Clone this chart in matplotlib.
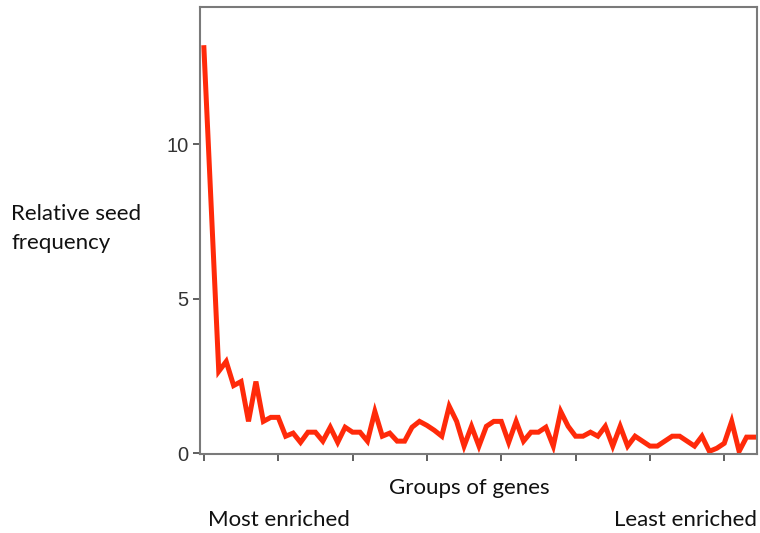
import numpy as np
import matplotlib.pyplot as plt

# relative seed frequency per gene group, ordered from most to least enriched
groups = np.arange(75)
seed_freq = [
    13.13, 7.9, 2.65, 2.97, 2.19, 2.32, 1.03, 2.32, 1.03, 1.16,
    1.16, 0.55, 0.65, 0.35, 0.68, 0.68, 0.39, 0.84, 0.35, 0.84,
    0.68, 0.68, 0.39, 1.35, 0.55, 0.65, 0.39, 0.39, 0.84, 1.03,
    0.90, 0.74, 0.55, 1.52, 1.03, 0.23, 0.87, 0.23, 0.87, 1.03,
    1.03, 0.35, 1.03, 0.39, 0.68, 0.68, 0.84, 0.23, 1.35, 0.87,
    0.55, 0.55, 0.68, 0.55, 0.87, 0.23, 0.87, 0.23, 0.55, 0.39,
    0.23, 0.23, 0.39, 0.55, 0.55, 0.39, 0.23, 0.55, 0.06, 0.16,
    0.32, 1.03, 0.06, 0.52, 0.52,
]
y_ticks = [0, 5, 10]
x_ticks = np.arange(0, 71, 10)

fig = plt.figure(figsize=(7.6, 5.33), dpi=100)
ax = fig.add_axes([0.263, 0.148, 0.733, 0.839])

ax.plot(groups, seed_freq, color='#ff2a0a', lw=3.6, solid_joinstyle='miter')

ax.set_xlim(-0.54, 74.4)
ax.set_ylim(-0.03, 14.45)
ax.set_yticks(y_ticks)
ax.set_xticks(x_ticks)
ax.set_xticklabels([])
for s in ax.spines.values():
    s.set_color('#7a7a7a')
    s.set_linewidth(1.5)
ax.tick_params(axis='both', direction='out', length=5, width=1.2, color='#444444')
ax.tick_params(axis='y', labelsize=14.5, labelcolor='#333333', pad=3)
for lab in ax.get_yticklabels():
    lab.set_family('Liberation Sans')

txt = dict(family='Lato', fontsize=16, color='#111111')
fig.text(11 / 760, 1 - 214 / 533, 'Relative seed', va='center', ha='left', **txt)
fig.text(11 / 760, 1 - 243 / 533, 'frequency', va='center', ha='left', **txt)
fig.text(469 / 760, 1 - 488 / 533, 'Groups of genes', va='center', ha='center', **txt)
fig.text(208 / 760, 1 - 520 / 533, 'Most enriched', va='center', ha='left', **txt)
fig.text(757 / 760, 1 - 520 / 533, 'Least enriched', va='center', ha='right', **txt)

fig.savefig('out.png', dpi=100)
